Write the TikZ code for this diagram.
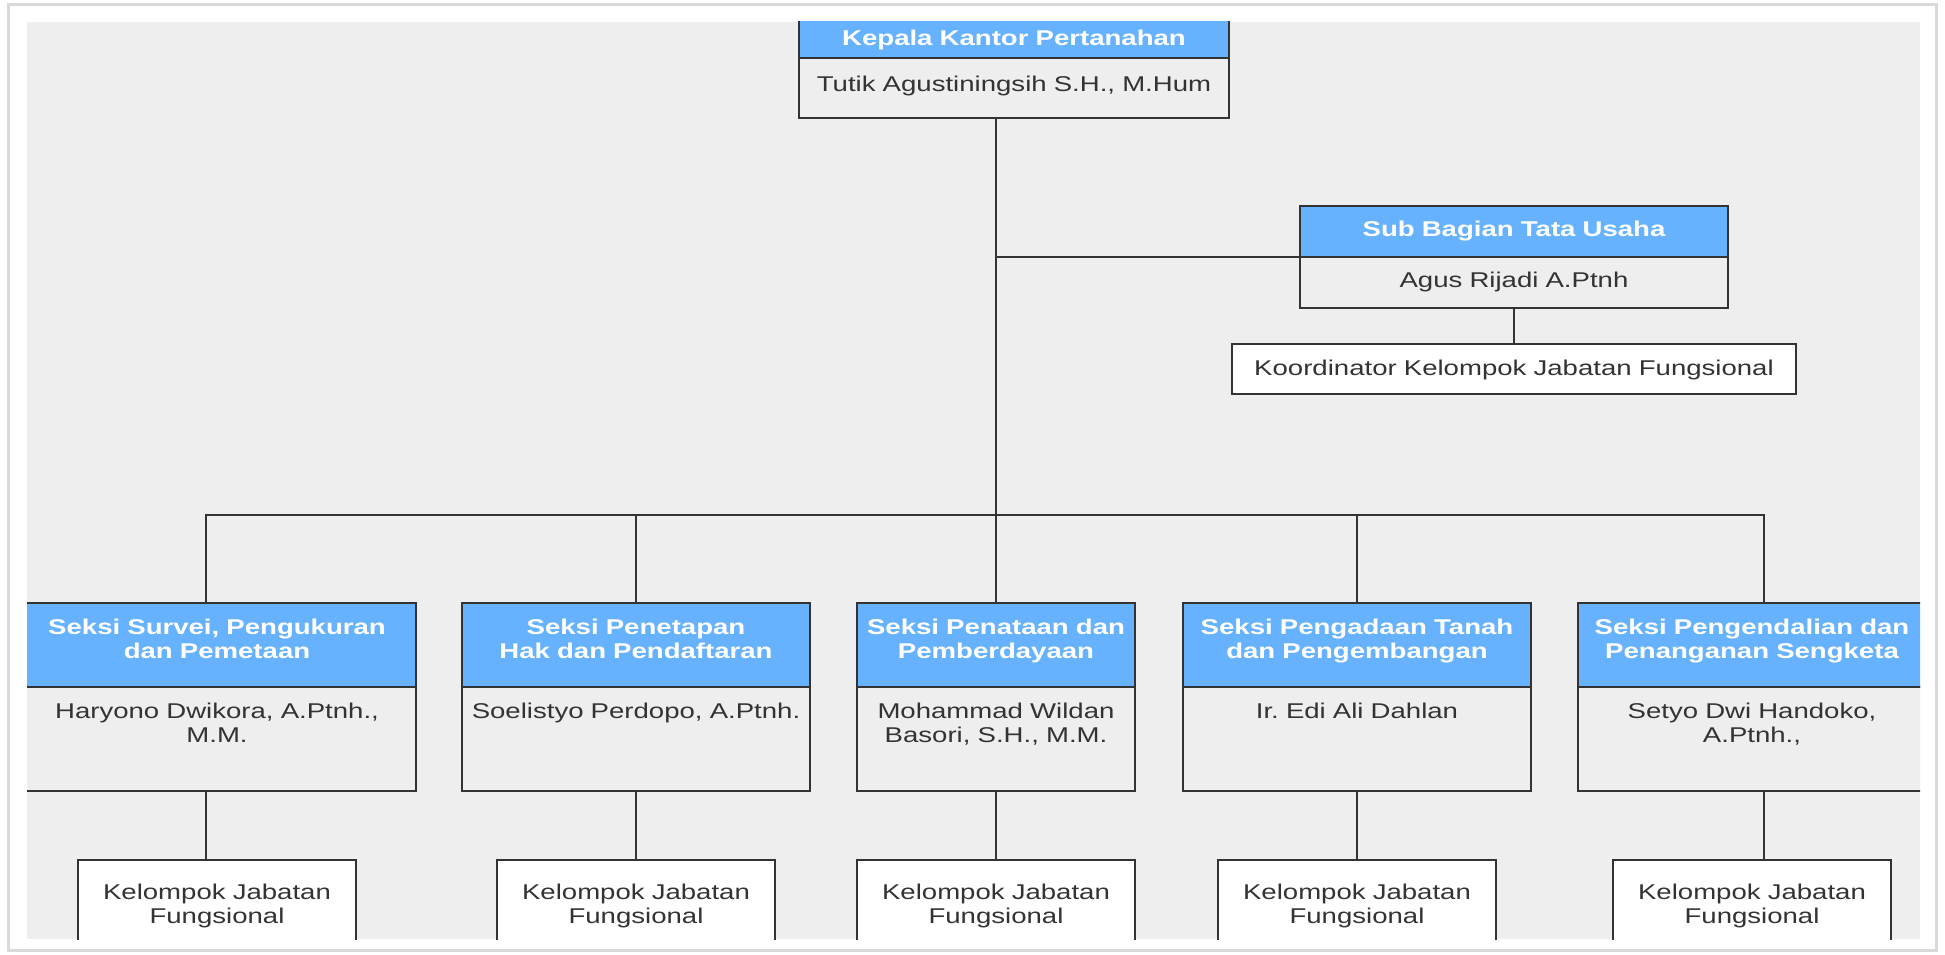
\documentclass[tikz,border=0pt]{standalone}
\usepackage{fontspec}
\setmainfont{Liberation Sans}[FakeStretch=1.29]
\usepackage{xcolor}
\usetikzlibrary{positioning}

\definecolor{headblue}{HTML}{66B2FF}
\definecolor{panelgray}{HTML}{EEEEEE}
\definecolor{inkgray}{HTML}{333333}
\frenchspacing

\begin{document}
\begin{tikzpicture}[
  x=0.0125cm, y=-0.0125cm,
  line width=0.7pt,
  box/.style={draw=inkgray, align=center, inner sep=0pt, outer sep=0pt,
              font=\fontsize{7.6}{8.7}\selectfont},
  head/.style={box, fill=headblue, text=white,
               font=\fontsize{7.6}{8.7}\selectfont\bfseries},
  person/.style={box, fill=panelgray, text=inkgray},
  groupbox/.style={box, fill=white, text=inkgray},
  seksi/.style={head, anchor=north, text height=0.3875cm, text depth=0.6625cm},
  pejabat/.style={person, text height=0.3875cm, text depth=0.9125cm},
  kjf/.style={groupbox, text width=3.475cm, text height=0.4875cm, text depth=0.7625cm},
  link/.style={draw=inkgray, line cap=rect}
]
\useasboundingbox (0,0) rectangle (1945,955);

% screenshot frame
\fill[black!15] (7,3) rectangle (1938,952);
\fill[white] (10,6) rectangle (1935,949);

\begin{scope}
\clip (27,22) rectangle (1920,939);
\fill[panelgray] (27,22) rectangle (1920,939);

% kepala kantor
\node[head, anchor=north, text width=5.375cm, text height=0.3625cm, text depth=0.1625cm]
  (kkp) at (1014,16) {Kepala Kantor Pertanahan};
\node[person, below=0pt of kkp, text width=5.375cm, text height=0.4125cm, text depth=0.3375cm]
  (kkpb) {Tutik Agustiningsih S.H., M.Hum};

% sub bagian tata usaha
\node[head, anchor=north, text width=5.35cm, text height=0.375cm, text depth=0.2625cm]
  (sub) at (1514,206) {Sub Bagian Tata Usaha};
\node[person, below=0pt of sub, text width=5.35cm, text height=0.375cm, text depth=0.2625cm]
  (subb) {Agus Rijadi A.Ptnh};
\node[groupbox, anchor=north, text width=7.05cm, text height=0.3875cm, text depth=0.2375cm]
  (koor) at (1514,344) {Koordinator Kelompok Jabatan Fungsional};

% seksi
\node[seksi, text width=4.975cm] (s1) at (217,603) {Seksi Survei, Pengukuran\\dan Pemetaan};
\node[pejabat, below=0pt of s1, text width=4.975cm] (b1) {Haryono Dwikora, A.Ptnh.,\\M.M.};
\node[kjf, below=0.8625cm of b1] (k1) {Kelompok Jabatan\\Fungsional};

\node[seksi, text width=4.3375cm] (s2) at (636,603) {Seksi Penetapan\\Hak dan Pendaftaran};
\node[pejabat, below=0pt of s2, text width=4.3375cm] (b2) {Soelistyo Perdopo, A.Ptnh.};
\node[kjf, below=0.8625cm of b2] (k2) {Kelompok Jabatan\\Fungsional};

\node[seksi, text width=3.475cm] (s3) at (996,603) {Seksi Penataan dan\\Pemberdayaan};
\node[pejabat, below=0pt of s3, text width=3.475cm] (b3) {Mohammad Wildan\\Basori, S.H., M.M.};
\node[kjf, below=0.8625cm of b3] (k3) {Kelompok Jabatan\\Fungsional};

\node[seksi, text width=4.35cm] (s4) at (1357,603) {Seksi Pengadaan Tanah\\dan Pengembangan};
\node[pejabat, below=0pt of s4, text width=4.35cm] (b4) {Ir. Edi Ali Dahlan};
\node[kjf, below=0.8625cm of b4] (k4) {Kelompok Jabatan\\Fungsional};

\node[seksi, text width=4.35cm] (s5) at (1752,603) {Seksi Pengendalian dan\\Penanganan Sengketa};
\node[pejabat, below=0pt of s5, text width=4.35cm] (b5) {Setyo Dwi Handoko,\\A.Ptnh.,};
\node[kjf, below=0.8625cm of b5] (k5) {Kelompok Jabatan\\Fungsional};

% garis
\coordinate (bus) at (996,515);
\coordinate (d1) at (206,515);
\coordinate (d2) at (636,515);
\coordinate (d3) at (996,515);
\coordinate (d4) at (1357,515);
\coordinate (d5) at (1764,515);
\draw[link] (kkpb.south -| bus) -- (bus);
\draw[link] (sub.south west -| bus) -- (sub.south west);
\draw[link] (subb) -- (koor);
\draw[link] (d1) -- (d5);
\foreach \i in {1,...,5} {
  \draw[link] (d\i) -- (s\i.north -| d\i);
  \draw[link] (b\i.south -| d\i) -- (k\i.north -| d\i);
}
\end{scope}
\end{tikzpicture}
\end{document}
